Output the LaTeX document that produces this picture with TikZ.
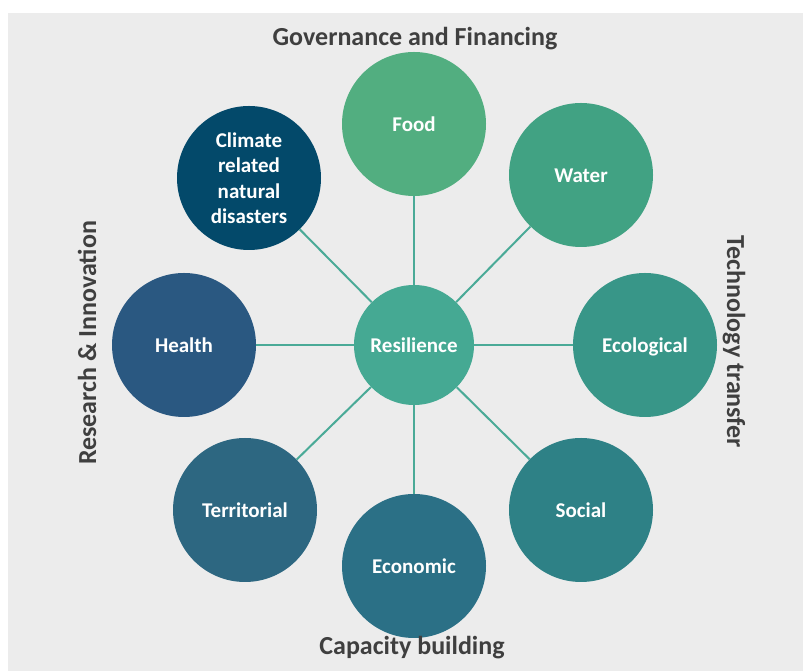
\documentclass[tikz,border=0pt]{standalone}
\usepackage{fontspec}
\setmainfont{Carlito}
\begin{document}
\definecolor{bgpanel}{HTML}{ECECEC}
\definecolor{titlegray}{HTML}{3F3F3F}
\definecolor{spoke}{HTML}{4AAA97}
\definecolor{cRes}{HTML}{45A993}
\definecolor{cFood}{HTML}{52AE80}
\definecolor{cWater}{HTML}{41A283}
\definecolor{cEco}{HTML}{389688}
\definecolor{cSocial}{HTML}{2E8186}
\definecolor{cEcon}{HTML}{2B7086}
\definecolor{cTerr}{HTML}{2D6781}
\definecolor{cHealth}{HTML}{2A5881}
\definecolor{cClimate}{HTML}{03496A}
\begin{tikzpicture}[x=1pt,y=1pt,
  bubble/.style={circle,inner sep=0pt,minimum size=144pt,text=white,align=center,
    text height=18pt,text depth=2.5pt,
    font=\bfseries\fontsize{21}{25.5}\selectfont},
  hub/.style={bubble,minimum size=120pt,fill=cRes},
  spokeline/.style={draw=spoke,line width=2pt},
  theme/.style={text=titlegray,font=\bfseries\fontsize{26}{30}\selectfont,inner sep=0pt}]
  % canvas and grey panel
  \useasboundingbox (0,0) rectangle (803,671);
  \fill[bgpanel] (8,0) rectangle (803,658);

  % hub and surrounding domains
  \node[hub] (res) at (414,326) {Resilience};
  \node[bubble,fill=cFood]    (food)    at (414,547) {Food};
  \node[bubble,fill=cWater]   (water)   at (581,496) {Water};
  \node[bubble,fill=cEco]     (eco)     at (645,326) {Ecological};
  \node[bubble,fill=cSocial]  (social)  at (581,161) {Social};
  \node[bubble,fill=cEcon]    (econ)    at (414,105) {Economic};
  \node[bubble,fill=cTerr]    (terr)    at (245,161) {Territorial};
  \node[bubble,fill=cHealth]  (health)  at (184,326) {Health};
  \node[bubble,fill=cClimate,text height=,text depth=] (climate) at (249,493)
    {Climate\\related\\natural\\disasters};

  % spokes from the hub to each domain
  \foreach \n in {food,water,eco,social,econ,terr,health,climate}
    \draw[spokeline] (res) -- (\n);

  % cross-cutting themes around the wheel
  \node[theme,anchor=base] (gov) at (415,625) {Governance and Financing};
  \node[theme,anchor=base] (cap) at (412,16) {Capacity building};
  \node[theme,anchor=base,rotate=90] (rni) at (96,328) {Research \& Innovation};
  \node[theme,anchor=base,rotate=-90] (tech) at (727,329) {Technology transfer};
\end{tikzpicture}
\end{document}
